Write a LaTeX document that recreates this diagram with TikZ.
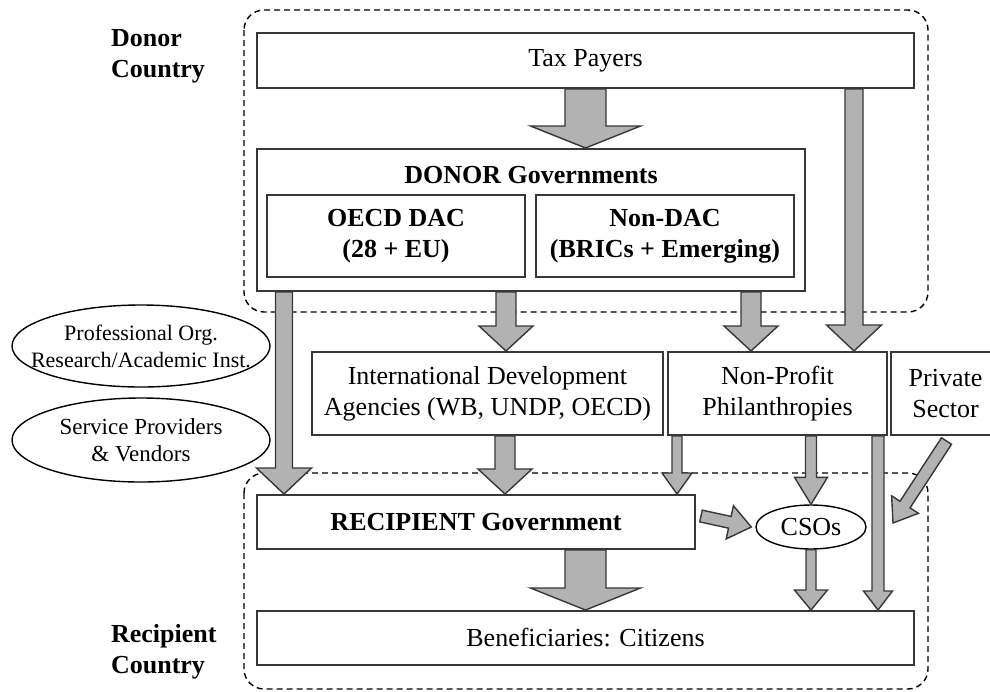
\documentclass[tikz,border=0pt]{standalone}
\usepackage{fontspec}
\setmainfont{Liberation Serif}
\usetikzlibrary{shapes.geometric, calc, positioning}
\definecolor{flowgray}{RGB}{178,178,178}
\definecolor{edgegray}{RGB}{55,55,55}

%% block arrow: from, to, shaft half width, head half width, head length
\newcommand{\fatarrow}[5]{%
  \coordinate (fa0) at (#1);
  \coordinate (fa1) at (#2);
  \coordinate (fab) at ($(fa1)!#5!(fa0)$);
  \draw[flow] ($(fa0)!#3!90:(fa1)$) -- ($(fab)!#3!90:(fa1)$) -- ($(fab)!#4!90:(fa1)$)
    -- (fa1) -- ($(fab)!#4!-90:(fa1)$) -- ($(fab)!#3!-90:(fa1)$) -- ($(fa0)!#3!-90:(fa1)$) -- cycle;}

\begin{document}
\begin{tikzpicture}[x=0.5pt, y=-0.5pt,
  font=\fontsize{13}{15.5}\selectfont,
  box/.style={draw=edgegray, line width=1pt, fill=white, align=center, inner sep=2pt},
  oval/.style={ellipse, draw=black, line width=0.7pt, fill=white, align=center, inner sep=0pt,
    font=\fontsize{11.5}{13.5}\selectfont},
  region/.style={draw=black, line width=0.7pt, dash pattern=on 3pt off 2pt, rounded corners=10pt},
  flow/.style={draw=edgegray, line width=0.7pt, fill=flowgray, line join=miter},
  side/.style={font=\fontsize{13}{15.5}\selectfont\bfseries, align=left, anchor=west}]
  \useasboundingbox (0,0) rectangle (990,691);

  %% country regions
  \draw[region] (244,10) rectangle (928,312);
  \draw[region] (244,473) rectangle (928,689);
  \node[side] (donorlbl) at (104,56) {Donor\\Country};
  \node[side] (reciplbl) at (104,652) {Recipient\\Country};

  %% donor side
  \node[box, minimum width=328.5pt, minimum height=27.5pt] (tax) at (585.5,60.5) {Tax Payers};
  \node[box, minimum width=274pt, minimum height=71pt] (gov) at (531,220) {};
  \node[font=\fontsize{13}{15.5}\selectfont\bfseries, anchor=base] (govlbl) at (531,183) {DONOR Governments};
  \node[box, font=\fontsize{13}{15.5}\selectfont\bfseries, minimum width=129pt, minimum height=41pt] (dac) at (396,236) {OECD DAC\\(28 + EU)};
  \node[box, font=\fontsize{13}{15.5}\selectfont\bfseries, minimum width=129pt, minimum height=41pt] (nondac) at (665,236) {Non-DAC\\(BRICs + Emerging)};

  %% intermediaries
  \node[box, minimum width=175.5pt, minimum height=41.5pt] (id) at (487.5,393.5) {International Development\\Agencies (WB, UNDP, OECD)};
  \node[box, minimum width=109.5pt, minimum height=41.5pt] (np) at (777.5,393.5) {Non-Profit\\Philanthropies};
  \node[box, minimum width=50.5pt, minimum height=41.5pt] (ps) at (941.5,393.5) {\hspace*{4pt}Private\\\hspace*{4pt}Sector};
  \node[oval, font=\fontsize{11}{13.5}\selectfont, inner xsep=-11pt, minimum width=129pt, minimum height=41pt] (prof) at (141,346) {Professional Org.\\Research/Academic Inst.};
  \node[oval, minimum width=129pt, minimum height=42pt] (serv) at (141,440) {Service Providers\\\& Vendors};

  %% recipient side
  \node[box, font=\fontsize{13}{15.5}\selectfont\bfseries, minimum width=219pt, minimum height=27pt] (rec) at (476,522) {RECIPIENT Government};
  \node[oval, font=\fontsize{13}{15.5}\selectfont, minimum width=55pt, minimum height=22pt] (cso) at (811,527) {CSOs};
  \node[box, minimum width=328.5pt, minimum height=27pt] (ben) at (585.5,638) {Beneficiaries: Citizens};

  %% flows
  \fatarrow{tax.south}{fa0 |- gov.north}{10.25pt}{27.5pt}{11pt}
  \fatarrow{[xshift=-30.5pt]tax.south east}{fa0 |- np.north}{4.5pt}{13.75pt}{13pt}
  \fatarrow{[xshift=14pt]gov.south west}{fa0 |- rec.north}{4.25pt}{13.75pt}{13pt}
  \fatarrow{[xshift=125pt]gov.south west}{fa0 |- id.north}{5pt}{13.5pt}{12.5pt}
  \fatarrow{[xshift=-27.5pt]gov.south east}{fa0 |- np.north}{5pt}{13.5pt}{12.5pt}
  \fatarrow{[xshift=8.75pt]id.south}{fa0 |- rec.north}{5pt}{13.5pt}{12.5pt}
  \fatarrow{[xshift=5pt]np.south west}{fa0 |- rec.north}{2.5pt}{7.5pt}{10.5pt}
  \fatarrow{cso.north |- np.south}{cso.north}{2.75pt}{8.25pt}{13.5pt}
  \fatarrow{[xshift=-5pt]np.south east}{fa0 |- ben.north}{3pt}{7.25pt}{9.5pt}
  \fatarrow{[shift={(2.5pt,3pt)}]rec.east}{[xshift=-2pt]cso.west}{3pt}{8.5pt}{11pt}
  \fatarrow{[shift={(2.5pt,-2.5pt)}]ps.south}{893,523}{3pt}{8pt}{11pt}
  \fatarrow{cso.south}{fa0 |- ben.north}{2.5pt}{8.25pt}{10pt}
  \fatarrow{ben.north |- rec.south}{ben.north}{10.25pt}{27.5pt}{11pt}
\end{tikzpicture}
\end{document}
